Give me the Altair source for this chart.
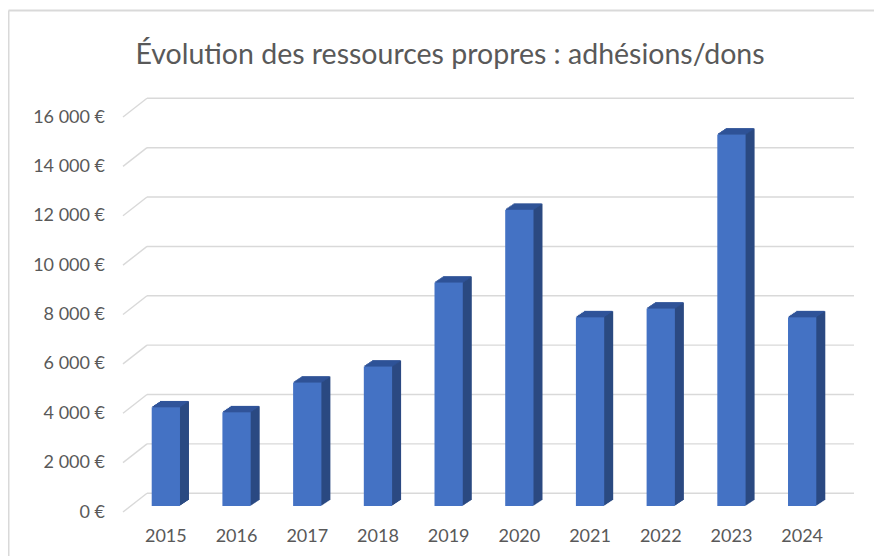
import altair as alt
import pandas as pd

# ---- data ----
years = ["2015", "2016", "2017", "2018", "2019", "2020", "2021", "2022", "2023", "2024"]
values = [4000, 3800, 5000, 5650, 9050, 12000, 7650, 8000, 15050, 7650]
y_ticks = [0, 2000, 4000, 6000, 8000, 10000, 12000, 14000, 16000]
title_text = "Évolution des ressources propres : adhésions/dons"

df = pd.DataFrame({"year": years, "value": values})
ticks_df = pd.DataFrame({"tick": y_ticks})

# ---- layout / style ----
W, H = 707, 395
BACK_DX, BACK_DY = 16.5, -12.7     # back wall relative to bar plane
FRONT_DX, FRONT_DY = -7.5, 6.0     # front plane relative to bar plane
DEPTH_STEPS = 9                     # side depth in px
FRONT_COL = "#4472C4"
SIDE_COL = "#2B4A82"
TOP_COL = "#30549A"
GRID_COL = "#D9D9D9"
TEXT_COL = "#595959"
FONT = "Lato"

xscale = alt.Scale(domain=years, paddingInner=0.6, paddingOuter=0.3)
yscale = alt.Scale(domain=[0, 16000], nice=False, zero=True)

x_axis = alt.Axis(title=None, labelAngle=0, domain=False, ticks=False, tickSize=0, grid=False,
                  labelPadding=21.5, labelFontSize=18, labelColor=TEXT_COL, labelFont=FONT)
y_axis = alt.Axis(title=None, values=y_ticks, grid=False, domain=False, ticks=False, tickSize=0,
                  offset=7.5, labelOffset=6, labelPadding=18.5, labelFontSize=18,
                  labelColor=TEXT_COL, labelFont=FONT,
                  labelExpr="replace(format(datum.value, ','), regexp(',', 'g'), '\u00a0') + '\u00a0€'")

X = lambda: alt.X("year:N", scale=xscale, axis=x_axis)

# back-wall gridlines
grid = alt.Chart(ticks_df).mark_rule(
    color=GRID_COL, strokeWidth=1.4,
    xOffset=BACK_DX, x2Offset=BACK_DX, yOffset=BACK_DY, y2Offset=BACK_DY
).encode(
    y=alt.Y("tick:Q", scale=yscale, axis=y_axis),
    x=alt.value(0), x2=alt.value(W)
)

# left-wall diagonals
diag = alt.Chart(ticks_df).mark_rule(
    color=GRID_COL, strokeWidth=1.4,
    xOffset=FRONT_DX, x2Offset=BACK_DX, yOffset=FRONT_DY, y2Offset=BACK_DY
).encode(
    y=alt.Y("tick:Q", scale=yscale, axis=y_axis),
    y2=alt.Y2("tick:Q"),
    x=alt.value(0), x2=alt.value(0)
)

base = alt.Chart(df)
layers = [grid, diag]

# extruded side (stack of shifted boxes)
for k in range(DEPTH_STEPS, 0, -1):
    dy = -k * 6.0 / 9.0
    layers.append(base.mark_bar(color=SIDE_COL, xOffset=k, yOffset=dy, y2Offset=dy).encode(
        x=X(),
        y=alt.Y("value:Q", scale=yscale, axis=y_axis),
    ))

# top face strips
for j in range(6):
    layers.append(base.mark_bar(color=TOP_COL, xOffset=1.5 * (j + 0.5),
                                yOffset=-(j + 1.3), y2Offset=-j).encode(
        x=X(),
        y=alt.Y("value:Q", scale=yscale, axis=y_axis),
        y2=alt.Y2("value:Q"),
    ))

# front faces
front = base.mark_bar(color=FRONT_COL).encode(
    x=X(),
    y=alt.Y("value:Q", scale=yscale, axis=y_axis),
)
layers.append(front)

# title as text
title = alt.Chart(ticks_df.head(1)).mark_text(
    font=FONT, fontSize=28.5, color=TEXT_COL, align="center", baseline="alphabetic"
).encode(x=alt.value(319.5), y=alt.value(-47.5), text=alt.value(title_text))

# outer chart border (light gray frame)
border_left = alt.Chart(ticks_df.head(1)).mark_rule(color=GRID_COL, strokeWidth=2).encode(
    x=alt.value(-122), y=alt.value(-100.5), y2=alt.value(460)
)
border_top = alt.Chart(ticks_df.head(1)).mark_rule(color=GRID_COL, strokeWidth=2).encode(
    x=alt.value(-122), x2=alt.value(800), y=alt.value(-100.5)
)
layers += [title, border_left, border_top]

chart = alt.layer(*layers).properties(
    width=W, height=H,
    padding={"left": 122.5, "top": 103, "right": 36.5, "bottom": 50},
    autosize=alt.AutoSizeParams(type="none"),
    background="white",
).configure_view(stroke=None)

chart.save("out.html", embed_options={"renderer": "svg", "actions": False})
